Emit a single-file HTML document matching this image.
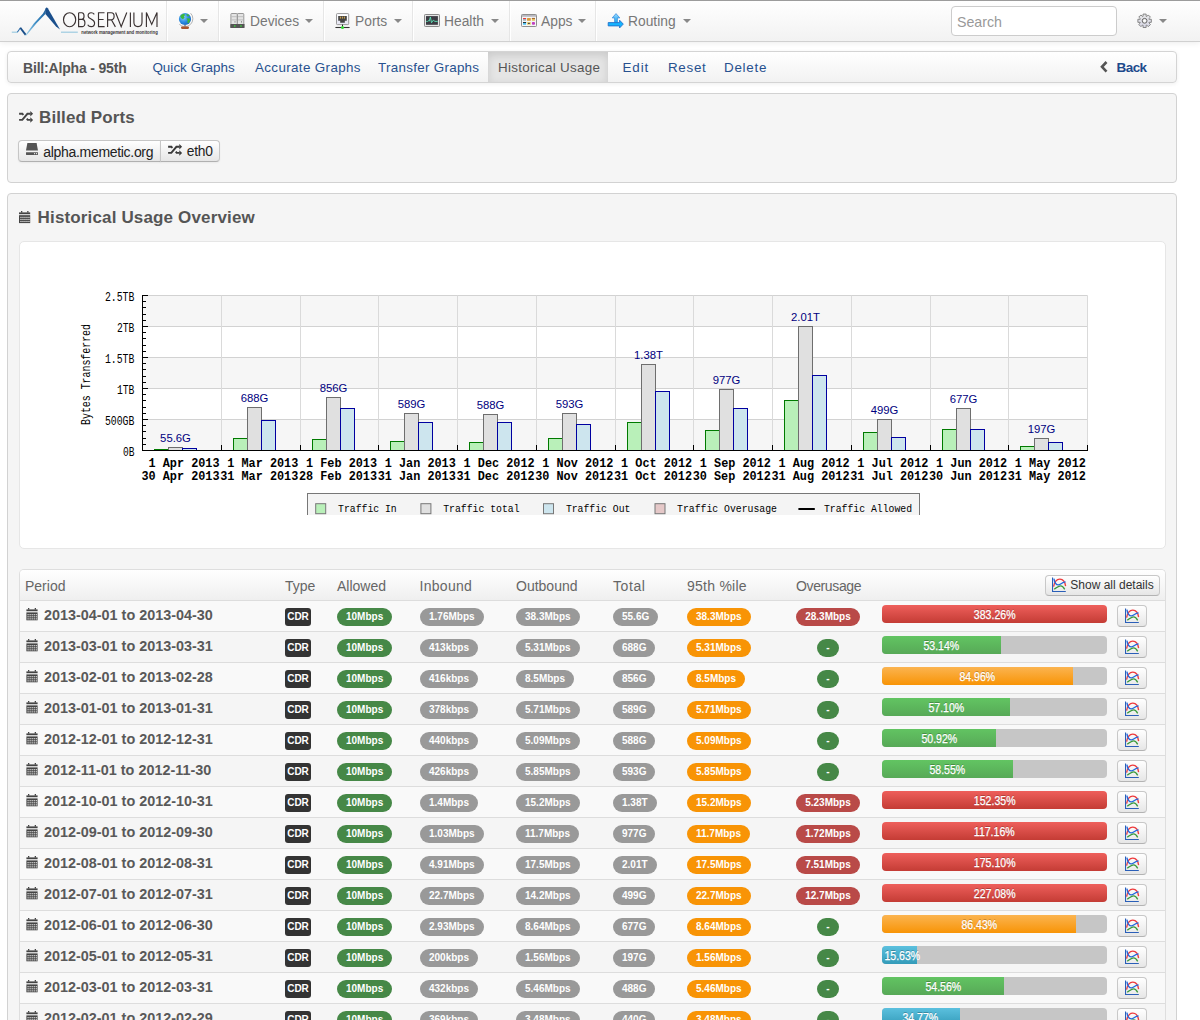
<!DOCTYPE html>
<html><head><meta charset="utf-8">
<style>
*{box-sizing:border-box}
html,body{margin:0;padding:0}
body{width:1200px;height:1020px;overflow:hidden;position:relative;background:#fff;font-family:"Liberation Sans",sans-serif;color:#333}
.abs{position:absolute}
/* navbar */
#nav{position:absolute;left:0;top:0;width:1200px;height:42px;background:linear-gradient(#fff,#f2f2f2);border-bottom:1px solid #d0d0d0;box-shadow:inset 0 1px 0 #9c9c9c,0 1px 6px rgba(0,0,0,.08)}
.sep{position:absolute;top:1px;width:2px;height:40px;border-left:1px solid #e6e6e6;border-right:1px solid #fff}
.nt{position:absolute;top:14px;font-size:13.8px;color:#777;line-height:16px;white-space:nowrap}
.caret{position:absolute;top:19px;width:0;height:0;border-left:4px solid transparent;border-right:4px solid transparent;border-top:4px solid #888}
#search{position:absolute;left:951px;top:6px;width:166px;height:30px;border:1px solid #ccc;border-radius:4px;background:#fff;font-size:14.2px;color:#999;padding:7px 0 0 5px;line-height:16px}
/* subnav */
#sub{position:absolute;left:7px;top:51px;width:1170px;height:32px;border:1px solid #d4d4d4;border-radius:4px;background:linear-gradient(#fff,#f2f2f2);box-shadow:0 1px 4px rgba(0,0,0,.065)}
.sl{position:absolute;top:8px;font-size:13.4px;color:#27518f;line-height:16px;white-space:nowrap}
#act{position:absolute;left:480px;top:0;width:120px;height:30px;background:#e5e5e5;box-shadow:inset 0 3px 8px rgba(0,0,0,.125)}
/* boxes */
.box{position:absolute;left:7px;width:1170px;background:#f5f5f5;border:1px solid #d2d2d2;border-radius:4px}
.h3{position:absolute;font-size:17px;font-weight:bold;color:#555;line-height:20px;white-space:nowrap}
.btng{position:absolute;left:10px;top:46px;height:22px;border:1px solid #c8c8c8;border-bottom-color:#b3b3b3;border-radius:4px;background:linear-gradient(#fff,#e6e6e6);display:flex;box-shadow:0 1px 2px rgba(0,0,0,.05)}
/* table */
#tbl{position:absolute;left:19px;top:569px;width:1147px;height:460px;border:1px solid #dedede;border-bottom:none;border-radius:5px 5px 0 0;background:#f9f9f9;overflow:hidden}
.tr{position:relative;height:31px;border-bottom:1px solid #ddd}
.tr.h{height:31px;background:linear-gradient(#fff,#efefef)}
.th{position:absolute;top:8px;font-size:14px;color:#666;line-height:16px;white-space:nowrap}
.odd{background:#f9f9f9}.even{background:#f5f5f5}
.per{position:absolute;left:24px;top:6px;font-size:14.4px;font-weight:bold;color:#595959;line-height:16px;white-space:nowrap}
.cal{position:absolute;left:5.5px;top:7px}
.b{position:absolute;top:7px;height:18px;padding:0 9px;border-radius:9px;color:#fff;font-size:10px;font-weight:bold;line-height:18px;text-align:center;white-space:nowrap}
.cdr{position:absolute;left:265px;top:7px;width:26px;height:18px;border-radius:3px;background:#333;color:#fff;font-size:10px;font-weight:bold;line-height:18px;text-align:center}
.g{background:#468847}.gr{background:#999}.o{background:#f89406}.r{background:#b94a48}
.pb{position:absolute;left:861.7px;top:4px;width:225px;height:18px;border-radius:4px;background:#c6c6c6;overflow:hidden}
.pf{height:18px;color:#fff;font-size:12px;line-height:20px;text-align:center;text-shadow:0 -1px 0 rgba(0,0,0,.25);white-space:nowrap;overflow:visible}
.pf span{display:inline-block;transform:scaleX(.88);-webkit-text-stroke:0.25px #fff}
.pr{background:linear-gradient(#ee5f5b,#c43c35)}
.pg{background:linear-gradient(#62c462,#57a957)}
.po{background:linear-gradient(#fbb450,#f89406)}
.pbl{background:linear-gradient(#5bc0de,#339bb9)}
.gbtn{position:absolute;left:1097px;top:3.5px;width:29.5px;height:22px;border:1px solid #c8c8c8;border-bottom-color:#b3b3b3;border-radius:4px;background:linear-gradient(#fff,#e6e6e6)}
.gbtn svg{position:absolute;left:6px;top:2.5px}

.bt{position:absolute;height:21px;border:1px solid #c6c6c6;border-bottom-color:#b0b0b0;background:linear-gradient(#fff,#e6e6e6);box-shadow:inset 0 1px 0 rgba(255,255,255,.2),0 1px 2px rgba(0,0,0,.05)}
.bl{position:absolute;color:#222;line-height:16px;white-space:nowrap}
.ov{position:absolute;left:758px;top:7px;width:100px;text-align:center;height:18px}
.b2{display:inline-block;height:18px;padding:0 9px;border-radius:9px;color:#fff;font-size:10px;font-weight:bold;line-height:18px;white-space:nowrap;vertical-align:top}
.sad{position:absolute;left:1025px;top:5px;width:115px;height:21px;border:1px solid #c8c8c8;border-bottom-color:#b3b3b3;border-radius:4px;background:linear-gradient(#fff,#e6e6e6);font-size:12px;color:#333;line-height:14px}
.sad span{position:absolute;left:24.3px;top:2px;white-space:nowrap}
</style></head><body>

<!-- NAVBAR -->
<div id="nav">
 <svg class="abs" style="left:0;top:0" width="165" height="41" viewBox="0 0 165 41">
  <defs><linearGradient id="lg1" x1="25" y1="35" x2="46" y2="8" gradientUnits="userSpaceOnUse"><stop offset="0" stop-color="#9fd2ea"/><stop offset="0.5" stop-color="#3d8cc4"/><stop offset="1" stop-color="#1a5a96"/></linearGradient></defs>
  <path d="M11.8 32.2 H17.5" stroke="#9ccbe0" stroke-width="1.2" fill="none"/>
  <path d="M17.3 32.3 L20.5 27.8" stroke="#2f70ad" stroke-width="1.1" fill="none"/><path d="M20.3 27.7 L25.7 34.9" stroke="#1a4f8a" stroke-width="1.9" fill="none"/>
  <path d="M25.3 35.3 L34 23.2 L43 13.6 L46.4 7.4 L45.4 13.9 L36.5 23.2 L26.3 35.6 Z" fill="url(#lg1)"/>
  <path d="M45.6 8.4 Q46.6 6.7 47.8 8.2 L60 29.4 L56 26.4 L45.4 13.9 Z" fill="#1a4f8c"/>
  <path d="M61 32.2 H77.8" stroke="#9ccbe0" stroke-width="1.2" fill="none"/>
  <g stroke="#3a3232" stroke-width="1.15" fill="none" stroke-linejoin="miter">
   <ellipse cx="69.6" cy="19.7" rx="6.1" ry="7"/>
   <path d="M78.6 12.7 V26.6 H82.4 C85.8 26.6 85.8 19.4 82.2 19.4 H78.6 M78.6 12.7 H81.8 C84.8 12.7 84.8 19.4 81.8 19.4"/>
   <path d="M94.3 14.3 C93.4 13 92.2 12.7 91.1 12.7 C88.7 12.7 88.1 14.4 88.1 15.9 C88.1 19.3 94.6 18.7 94.6 22.9 C94.6 25.1 93.2 26.6 91.1 26.6 C89.7 26.6 88.5 26 87.7 24.7"/>
   <path d="M104.5 12.7 H98.5 V26.6 H104.6 M98.5 19.5 H103.6"/>
   <path d="M107.6 26.9 V12.7 H111.2 C115.1 12.7 115.1 19.8 111.2 19.8 H107.6 M111.4 19.8 L115.4 26.9"/>
   <path d="M115.6 12.5 L121.2 26.6 L126.8 12.5"/>
   <path d="M130.4 12.5 V26.9"/>
   <path d="M133.9 12.5 V22.3 C133.9 25.2 135.6 26.6 138 26.6 C140.4 26.6 142 25.2 142 22.3 V12.5"/>
   <path d="M146.4 26.9 V12.5 L151.7 24.4 L157 12.5 V26.9"/>
  </g>
  <text x="81.3" y="33.9" textLength="76.5" lengthAdjust="spacingAndGlyphs" font-family="Liberation Sans" font-size="5" font-weight="bold" fill="#3a3434">network management and monitoring</text>
 </svg>
 <div class="sep" style="left:166px"></div>
 <!-- globe -->
 <svg class="abs" style="left:177px;top:11px" width="17" height="19" viewBox="0 0 17 19">
  <defs><radialGradient id="gl" cx="0.38" cy="0.35" r="0.75"><stop offset="0" stop-color="#8fd0ff"/><stop offset="0.55" stop-color="#2b8ae0"/><stop offset="1" stop-color="#1560b8"/></radialGradient></defs>
  <path d="M13.6 2.2 A7.6 7.6 0 0 1 2.3 13.3" stroke="#b4b4b4" stroke-width="1" fill="none"/>
  <circle cx="8" cy="8" r="6.1" fill="url(#gl)"/>
  <path d="M3.2 5.2 Q4.5 3 7 2.8 L8.2 4 L6.8 5.2 L7.6 6.6 L6 8.2 L4.6 7.4 Z M9.2 3.5 L11.3 3.2 L12.4 5 L10.5 5.6 Z M9.5 7.3 L12.8 7.6 L13.2 9.6 L11.6 12.2 L10.4 11.8 L10.6 9.6 Z" fill="#3db83a"/>
  <rect x="7.2" y="14" width="1.6" height="1.6" fill="#888"/>
  <rect x="4" y="15.5" width="8" height="2.4" rx="1.1" fill="#a9552c"/>
 </svg>
 <div class="caret" style="left:200px"></div>
 <div class="sep" style="left:218px"></div>
 <!-- devices -->
 <svg class="abs" style="left:230px;top:13px" width="15" height="15" viewBox="0 0 15 15">
  <rect x="0.9" y="0.5" width="6.4" height="11" rx="0.7" fill="#e4e4e4" stroke="#8f8f8f" stroke-width="0.9"/>
  <rect x="7.4" y="0.5" width="6.4" height="11" rx="0.7" fill="#e4e4e4" stroke="#8f8f8f" stroke-width="0.9"/>
  <path d="M1.5 3.7h5.4M1.5 6.9h5.4M8 3.7h5.4M8 6.9h5.4" stroke="#b4b4b4" stroke-width="0.8"/>
  <rect x="4.5" y="8.4" width="1" height="1" fill="#666"/><rect x="11" y="8.4" width="1" height="1" fill="#666"/>
  <rect x="0.2" y="11" width="14.4" height="3.9" rx="0.4" fill="#555"/>
  <circle cx="4.8" cy="12.9" r="0.75" fill="#3f3"/><circle cx="11" cy="12.9" r="0.75" fill="#3f3"/>
 </svg>
 <div class="nt" style="left:250px">Devices</div>
 <div class="caret" style="left:305px"></div>
 <div class="sep" style="left:323px"></div>
 <!-- ports -->
 <svg class="abs" style="left:335px;top:13px" width="16" height="17" viewBox="0 0 16 17">
  <rect x="1.5" y="0.6" width="12.2" height="11" rx="0.8" fill="#e8e8f4" stroke="#9a9a9a" stroke-width="1"/>
  <rect x="2.3" y="1.3" width="10.6" height="6" fill="#fff"/>
  <path d="M3.2 2.9h8.6v4.8h-2v2h-4.6v-2h-2z" fill="#444"/>
  <path d="M5.4 3.6v2M7.4 3.6v2M9.4 3.6v2" stroke="#e6b450" stroke-width="0.9"/>
  <path d="M7.5 11.6v2.7" stroke="#222" stroke-width="1"/>
  <path d="M0.4 14.5h14.2" stroke="#333" stroke-width="1.1"/>
  <circle cx="7.5" cy="14.6" r="1.5" fill="#33dd33"/>
 </svg>
 <div class="nt" style="left:355px">Ports</div>
 <div class="caret" style="left:394px"></div>
 <div class="sep" style="left:412px"></div>
 <!-- health -->
 <svg class="abs" style="left:424px;top:14px" width="16" height="13" viewBox="0 0 16 13">
  <rect x="0.5" y="0.5" width="15" height="12" rx="0.8" fill="#e6e6e6" stroke="#8a8a8a" stroke-width="1"/>
  <rect x="2" y="2.1" width="11.9" height="8.7" fill="#3c3c44"/>
  <path d="M2.2 7.4h1.4l0.8 -0.7l0.8 0.5l1.2 -4.2l1.1 5.7l1.8 -2.5l1.6 1.2h2.8" stroke="#5ee6b8" stroke-width="0.9" fill="none" stroke-linejoin="round"/>
 </svg>
 <div class="nt" style="left:444px">Health</div>
 <div class="caret" style="left:491px"></div>
 <div class="sep" style="left:509px"></div>
 <!-- apps -->
 <svg class="abs" style="left:521px;top:14px" width="16" height="13" viewBox="0 0 16 13">
  <rect x="0.5" y="0.5" width="15" height="12" rx="0.8" fill="#f6f6f6" stroke="#8e8e8e" stroke-width="1"/>
  <rect x="1" y="1" width="14" height="1.8" fill="#b8b8c0"/>
  <rect x="2" y="3.9" width="3.1" height="2.8" rx="0.5" fill="#9cb0c0"/><rect x="2" y="3.9" width="3.1" height="1" rx="0.4" fill="#e33"/>
  <rect x="6" y="3.9" width="3.8" height="2.8" rx="0.5" fill="#d89a3a"/>
  <rect x="10.9" y="3.9" width="3.1" height="2.8" rx="0.5" fill="#e8c060"/><rect x="10.9" y="3.9" width="3.1" height="1" fill="#a0602a"/>
  <rect x="2" y="8" width="3.1" height="2.8" rx="0.5" fill="#4ec0ee"/><rect x="2" y="8" width="3.1" height="0.9" fill="#222"/>
  <rect x="6" y="8" width="3.8" height="2.8" rx="0.5" fill="#e8d070"/><rect x="7" y="8.9" width="1.8" height="1" fill="#335"/>
  <rect x="10.9" y="8" width="3.1" height="2.8" rx="1" fill="#c040c0"/>
 </svg>
 <div class="nt" style="left:541px">Apps</div>
 <div class="caret" style="left:578px"></div>
 <div class="sep" style="left:595px"></div>
 <!-- routing -->
 <svg class="abs" style="left:607px;top:12px" width="18" height="17" viewBox="0 0 18 17">
  <defs><linearGradient id="rg" x1="0" y1="0" x2="0" y2="1"><stop offset="0" stop-color="#9ad8ff"/><stop offset="1" stop-color="#1aa8f0"/></linearGradient></defs>
  <path d="M7.6 10.5 V5.9 H5.2 L9 1.6 L12.8 5.9 H10.4 V10.5 Z" fill="url(#rg)" stroke="#3d8fe0" stroke-width="0.8" stroke-linejoin="round"/>
  <path d="M1.2 10.6 H12.6 V8.2 L16.3 12.1 L12.6 15.9 V13.9 H1.2 Z" fill="#14b4ff" stroke="#2470c8" stroke-width="0.9" stroke-linejoin="round"/>
 </svg>
 <div class="nt" style="left:628px">Routing</div>
 <div class="caret" style="left:683px"></div>
 <div id="search">Search</div>
 <!-- gear -->
 <svg class="abs" style="left:1137px;top:13px" width="16" height="16" viewBox="0 0 16 16">
  <defs><linearGradient id="gg" x1="0" y1="0" x2="0" y2="1"><stop offset="0" stop-color="#e8e8e8"/><stop offset="1" stop-color="#d6d6e6"/></linearGradient></defs>
  <path d="M6.07 3.36 L6.05 1.08 L9.15 1.08 L9.13 3.36 L9.66 3.58 L11.26 1.95 L13.45 4.14 L11.82 5.74 L12.04 6.27 L14.32 6.25 L14.32 9.35 L12.04 9.33 L11.82 9.86 L13.45 11.46 L11.26 13.65 L9.66 12.02 L9.13 12.24 L9.15 14.52 L6.05 14.52 L6.07 12.24 L5.54 12.02 L3.94 13.65 L1.75 11.46 L3.38 9.86 L3.16 9.33 L0.88 9.35 L0.88 6.25 L3.16 6.27 L3.38 5.74 L1.75 4.14 L3.94 1.95 L5.54 3.58 Z" fill="url(#gg)" stroke="#7a7a7a" stroke-width="0.9" stroke-linejoin="round"/>
  <circle cx="7.6" cy="7.8" r="2.4" fill="#ececec" stroke="#666" stroke-width="1"/>
  <rect x="6.7" y="6.9" width="1.8" height="1.8" fill="#fff"/>
 </svg>
 <div class="caret" style="left:1159px"></div>
</div>

<!-- SUBNAV -->
<div id="sub">
 <div id="act"></div>
 <div class="sl" style="left:15px;font-weight:bold;color:#555;font-size:14px;letter-spacing:-0.18px">Bill:Alpha - 95th</div>
 <div class="sl" style="left:144.4px;letter-spacing:0.05px">Quick Graphs</div>
 <div class="sl" style="left:247px;letter-spacing:0.36px">Accurate Graphs</div>
 <div class="sl" style="left:370px;letter-spacing:0.29px">Transfer Graphs</div>
 <div class="sl" style="left:490px;color:#555;letter-spacing:0.3px">Historical Usage</div>
 <div class="sl" style="left:614.5px;letter-spacing:0.9px">Edit</div>
 <div class="sl" style="left:660px;letter-spacing:0.69px">Reset</div>
 <div class="sl" style="left:716px;letter-spacing:0.75px">Delete</div>
 <svg class="abs" style="left:1092px;top:9px" width="9" height="12" viewBox="0 0 9 12"><path d="M6.5 1 L2 5.8 L6.5 10.6" stroke="#555" stroke-width="2.6" fill="none" stroke-linejoin="miter"/></svg>
 <div class="sl" style="left:1108.5px;font-weight:bold;color:#1d4a8c;font-size:13.5px;letter-spacing:-0.55px">Back</div>
</div>

<!-- BILLED PORTS -->
<div class="box" style="top:93px;height:90px">
 <svg class="abs" style="left:10px;top:16px" width="16" height="14" viewBox="0 0 16 14">
  <path d="M1.1 3.8H4.4L5.3 5M1.1 9.9H4.3L9.4 3.8H12.6M8.8 8.6L9.7 9.9H12.6" stroke="#444" stroke-width="1.9" fill="none" stroke-linejoin="miter"/>
  <path d="M12.3 1.1L15.1 3.8L12.3 6.5ZM12.3 7.2L15.1 9.9L12.3 12.7Z" fill="#444"/>
 </svg>
 <div class="h3" style="left:31px;top:13.9px;letter-spacing:0.12px">Billed Ports</div>
 <div class="bt" style="left:10px;top:46px;height:22px;width:143px;border-radius:4px 0 0 4px"></div>
 <div class="bt" style="left:152px;top:46px;height:22px;width:60px;border-radius:0 4px 4px 0"></div>
 <svg class="abs" style="left:18px;top:49px" width="13" height="13" viewBox="0 0 13 13">
  <path d="M1.4 0h9.2l1.4 7.5h-12z" fill="#555"/>
  <rect x="0" y="9.2" width="12" height="2.8" rx="0.4" fill="#555"/>
  <rect x="8" y="10.1" width="1.1" height="1.1" fill="#eee"/><rect x="10" y="10.1" width="1.1" height="1.1" fill="#eee"/>
 </svg>
 <div class="bl" style="left:35.3px;top:50.2px;font-size:14px;letter-spacing:-0.31px">alpha.memetic.org</div>
 <svg class="abs" style="left:158.6px;top:48.9px" width="16" height="14" viewBox="0 0 16 14">
  <path d="M1.1 3.8H4.4L5.3 5M1.1 9.9H4.3L9.4 3.8H12.6M8.8 8.6L9.7 9.9H12.6" stroke="#3a3a3a" stroke-width="1.9" fill="none" stroke-linejoin="miter"/>
  <path d="M12.3 1.1L15.1 3.8L12.3 6.5ZM12.3 7.2L15.1 9.9L12.3 12.7Z" fill="#3a3a3a"/>
 </svg>
 <div class="bl" style="left:178.7px;top:50.2px;font-size:13.8px;letter-spacing:-0.2px">eth0</div>
</div>
<!-- HISTORICAL -->
<div class="box" style="top:193px;height:840px">
 <svg class="abs" style="left:11px;top:16.5px" width="12" height="13" viewBox="0 0 12 13"><rect x="2" y="0" width="1.3" height="1.6" fill="#444"/><rect x="8.2" y="0" width="1.3" height="1.6" fill="#444"/><rect x="0" y="1.4" width="11.2" height="1.8" fill="#444"/><rect x="0" y="4.2" width="11.2" height="7.9" fill="#444"/><rect x="1.40" y="5.80" width="1.15" height="1.15" fill="#f2f2f2"/><rect x="1.40" y="7.85" width="1.15" height="1.15" fill="#f2f2f2"/><rect x="1.40" y="9.90" width="1.15" height="1.15" fill="#f2f2f2"/><rect x="3.40" y="5.80" width="1.15" height="1.15" fill="#f2f2f2"/><rect x="3.40" y="7.85" width="1.15" height="1.15" fill="#f2f2f2"/><rect x="3.40" y="9.90" width="1.15" height="1.15" fill="#f2f2f2"/><rect x="5.40" y="5.80" width="1.15" height="1.15" fill="#f2f2f2"/><rect x="5.40" y="7.85" width="1.15" height="1.15" fill="#f2f2f2"/><rect x="5.40" y="9.90" width="1.15" height="1.15" fill="#f2f2f2"/><rect x="7.40" y="5.80" width="1.15" height="1.15" fill="#f2f2f2"/><rect x="7.40" y="7.85" width="1.15" height="1.15" fill="#f2f2f2"/><rect x="7.40" y="9.90" width="1.15" height="1.15" fill="#f2f2f2"/><rect x="9.40" y="5.80" width="1.15" height="1.15" fill="#f2f2f2"/><rect x="9.40" y="7.85" width="1.15" height="1.15" fill="#f2f2f2"/><rect x="9.40" y="9.90" width="1.15" height="1.15" fill="#f2f2f2"/></svg>
 <div class="h3" style="left:29.6px;top:13.8px;letter-spacing:0.15px">Historical Usage Overview</div>
 <div class="abs" style="left:11px;top:47px;width:1147px;height:308px;background:#fff;border:1px solid #e6e6e6;border-radius:5px"></div>
</div>
<svg class="abs" style="left:60px;top:280px" width="1040" height="235" viewBox="60 280 1040 235" shape-rendering="auto">
<rect x="142.5" y="295.50" width="945.00" height="31.00" fill="#f6f6f6"/>
<rect x="142.5" y="357.50" width="945.00" height="31.00" fill="#f6f6f6"/>
<rect x="142.5" y="419.50" width="945.00" height="31.00" fill="#f6f6f6"/>
<path d="M142.5 295.50H1087.5" stroke="#d2d2d2" stroke-width="1"/>
<path d="M142.5 326.50H1087.5" stroke="#d2d2d2" stroke-width="1"/>
<path d="M142.5 357.50H1087.5" stroke="#d2d2d2" stroke-width="1"/>
<path d="M142.5 388.50H1087.5" stroke="#d2d2d2" stroke-width="1"/>
<path d="M142.5 419.50H1087.5" stroke="#d2d2d2" stroke-width="1"/>
<path d="M221.50 295.5V450.2" stroke="#dadada" stroke-width="1"/>
<path d="M300.50 295.5V450.2" stroke="#dadada" stroke-width="1"/>
<path d="M378.50 295.5V450.2" stroke="#dadada" stroke-width="1"/>
<path d="M457.50 295.5V450.2" stroke="#dadada" stroke-width="1"/>
<path d="M536.50 295.5V450.2" stroke="#dadada" stroke-width="1"/>
<path d="M615.50 295.5V450.2" stroke="#dadada" stroke-width="1"/>
<path d="M693.50 295.5V450.2" stroke="#dadada" stroke-width="1"/>
<path d="M772.50 295.5V450.2" stroke="#dadada" stroke-width="1"/>
<path d="M851.50 295.5V450.2" stroke="#dadada" stroke-width="1"/>
<path d="M930.50 295.5V450.2" stroke="#dadada" stroke-width="1"/>
<path d="M1008.50 295.5V450.2" stroke="#dadada" stroke-width="1"/>
<path d="M1087.50 295.5V450.2" stroke="#dadada" stroke-width="1"/>
<rect x="154.50" y="449.50" width="14" height="1.00" fill="#b9f0b9" stroke="#007a00" stroke-width="1"/>
<rect x="168.50" y="447.50" width="14" height="3.00" fill="#e0e0e0" stroke="#6e6e6e" stroke-width="1"/>
<rect x="182.50" y="448.50" width="14" height="2.00" fill="#cde5ee" stroke="#0000a0" stroke-width="1"/>
<rect x="233.50" y="438.50" width="14" height="12.00" fill="#b9f0b9" stroke="#007a00" stroke-width="1"/>
<rect x="247.50" y="407.50" width="14" height="43.00" fill="#e0e0e0" stroke="#6e6e6e" stroke-width="1"/>
<rect x="261.50" y="420.50" width="14" height="30.00" fill="#cde5ee" stroke="#0000a0" stroke-width="1"/>
<rect x="312.50" y="439.50" width="14" height="11.00" fill="#b9f0b9" stroke="#007a00" stroke-width="1"/>
<rect x="326.50" y="397.50" width="14" height="53.00" fill="#e0e0e0" stroke="#6e6e6e" stroke-width="1"/>
<rect x="340.50" y="408.50" width="14" height="42.00" fill="#cde5ee" stroke="#0000a0" stroke-width="1"/>
<rect x="390.50" y="441.50" width="14" height="9.00" fill="#b9f0b9" stroke="#007a00" stroke-width="1"/>
<rect x="404.50" y="413.50" width="14" height="37.00" fill="#e0e0e0" stroke="#6e6e6e" stroke-width="1"/>
<rect x="418.50" y="422.50" width="14" height="28.00" fill="#cde5ee" stroke="#0000a0" stroke-width="1"/>
<rect x="469.50" y="442.50" width="14" height="8.00" fill="#b9f0b9" stroke="#007a00" stroke-width="1"/>
<rect x="483.50" y="414.50" width="14" height="36.00" fill="#e0e0e0" stroke="#6e6e6e" stroke-width="1"/>
<rect x="497.50" y="422.50" width="14" height="28.00" fill="#cde5ee" stroke="#0000a0" stroke-width="1"/>
<rect x="548.50" y="438.50" width="14" height="12.00" fill="#b9f0b9" stroke="#007a00" stroke-width="1"/>
<rect x="562.50" y="413.50" width="14" height="37.00" fill="#e0e0e0" stroke="#6e6e6e" stroke-width="1"/>
<rect x="576.50" y="424.50" width="14" height="26.00" fill="#cde5ee" stroke="#0000a0" stroke-width="1"/>
<rect x="627.50" y="422.50" width="14" height="28.00" fill="#b9f0b9" stroke="#007a00" stroke-width="1"/>
<rect x="641.50" y="364.50" width="14" height="86.00" fill="#e0e0e0" stroke="#6e6e6e" stroke-width="1"/>
<rect x="655.50" y="391.50" width="14" height="59.00" fill="#cde5ee" stroke="#0000a0" stroke-width="1"/>
<rect x="705.50" y="430.50" width="14" height="20.00" fill="#b9f0b9" stroke="#007a00" stroke-width="1"/>
<rect x="719.50" y="389.50" width="14" height="61.00" fill="#e0e0e0" stroke="#6e6e6e" stroke-width="1"/>
<rect x="733.50" y="408.50" width="14" height="42.00" fill="#cde5ee" stroke="#0000a0" stroke-width="1"/>
<rect x="784.50" y="400.50" width="14" height="50.00" fill="#b9f0b9" stroke="#007a00" stroke-width="1"/>
<rect x="798.50" y="326.50" width="14" height="124.00" fill="#e0e0e0" stroke="#6e6e6e" stroke-width="1"/>
<rect x="812.50" y="375.50" width="14" height="75.00" fill="#cde5ee" stroke="#0000a0" stroke-width="1"/>
<rect x="863.50" y="432.50" width="14" height="18.00" fill="#b9f0b9" stroke="#007a00" stroke-width="1"/>
<rect x="877.50" y="419.50" width="14" height="31.00" fill="#e0e0e0" stroke="#6e6e6e" stroke-width="1"/>
<rect x="891.50" y="437.50" width="14" height="13.00" fill="#cde5ee" stroke="#0000a0" stroke-width="1"/>
<rect x="942.50" y="429.50" width="14" height="21.00" fill="#b9f0b9" stroke="#007a00" stroke-width="1"/>
<rect x="956.50" y="408.50" width="14" height="42.00" fill="#e0e0e0" stroke="#6e6e6e" stroke-width="1"/>
<rect x="970.50" y="429.50" width="14" height="21.00" fill="#cde5ee" stroke="#0000a0" stroke-width="1"/>
<rect x="1020.50" y="446.50" width="14" height="4.00" fill="#b9f0b9" stroke="#007a00" stroke-width="1"/>
<rect x="1034.50" y="438.50" width="14" height="12.00" fill="#e0e0e0" stroke="#6e6e6e" stroke-width="1"/>
<rect x="1048.50" y="442.50" width="14" height="8.00" fill="#cde5ee" stroke="#0000a0" stroke-width="1"/>
<path d="M142.5 295.0V451" stroke="#000" stroke-width="1"/>
<path d="M142.0 450.5H1088" stroke="#000" stroke-width="1.1"/>
<path d="M142.5 295.50H148" stroke="#000" stroke-width="1"/>
<path d="M142.5 326.50H148" stroke="#000" stroke-width="1"/>
<path d="M142.5 357.50H148" stroke="#000" stroke-width="1"/>
<path d="M142.5 388.50H148" stroke="#000" stroke-width="1"/>
<path d="M142.5 419.50H148" stroke="#000" stroke-width="1"/>
<path d="M142.5 450.50H148" stroke="#000" stroke-width="1"/>
<path d="M142.5 301.50H146" stroke="#000" stroke-width="1"/>
<path d="M142.5 307.50H146" stroke="#000" stroke-width="1"/>
<path d="M142.5 314.50H146" stroke="#000" stroke-width="1"/>
<path d="M142.5 320.50H146" stroke="#000" stroke-width="1"/>
<path d="M142.5 332.50H146" stroke="#000" stroke-width="1"/>
<path d="M142.5 338.50H146" stroke="#000" stroke-width="1"/>
<path d="M142.5 345.50H146" stroke="#000" stroke-width="1"/>
<path d="M142.5 351.50H146" stroke="#000" stroke-width="1"/>
<path d="M142.5 363.50H146" stroke="#000" stroke-width="1"/>
<path d="M142.5 369.50H146" stroke="#000" stroke-width="1"/>
<path d="M142.5 376.50H146" stroke="#000" stroke-width="1"/>
<path d="M142.5 382.50H146" stroke="#000" stroke-width="1"/>
<path d="M142.5 394.50H146" stroke="#000" stroke-width="1"/>
<path d="M142.5 400.50H146" stroke="#000" stroke-width="1"/>
<path d="M142.5 407.50H146" stroke="#000" stroke-width="1"/>
<path d="M142.5 413.50H146" stroke="#000" stroke-width="1"/>
<path d="M142.5 425.50H146" stroke="#000" stroke-width="1"/>
<path d="M142.5 431.50H146" stroke="#000" stroke-width="1"/>
<path d="M142.5 438.50H146" stroke="#000" stroke-width="1"/>
<path d="M142.5 444.50H146" stroke="#000" stroke-width="1"/>
<path d="M142.50 450.5V445" stroke="#000" stroke-width="1"/>
<path d="M221.50 450.5V445" stroke="#000" stroke-width="1"/>
<path d="M300.50 450.5V445" stroke="#000" stroke-width="1"/>
<path d="M378.50 450.5V445" stroke="#000" stroke-width="1"/>
<path d="M457.50 450.5V445" stroke="#000" stroke-width="1"/>
<path d="M536.50 450.5V445" stroke="#000" stroke-width="1"/>
<path d="M615.50 450.5V445" stroke="#000" stroke-width="1"/>
<path d="M693.50 450.5V445" stroke="#000" stroke-width="1"/>
<path d="M772.50 450.5V445" stroke="#000" stroke-width="1"/>
<path d="M851.50 450.5V445" stroke="#000" stroke-width="1"/>
<path d="M930.50 450.5V445" stroke="#000" stroke-width="1"/>
<path d="M1008.50 450.5V445" stroke="#000" stroke-width="1"/>
<path d="M1087.50 450.5V445" stroke="#000" stroke-width="1"/>
<text x="134.4" y="300.50" text-anchor="end" font-family="Liberation Mono" font-size="11.9" textLength="29.5" lengthAdjust="spacingAndGlyphs">2.5TB</text>
<text x="134.4" y="331.50" text-anchor="end" font-family="Liberation Mono" font-size="11.9" textLength="17.5" lengthAdjust="spacingAndGlyphs">2TB</text>
<text x="134.4" y="362.50" text-anchor="end" font-family="Liberation Mono" font-size="11.9" textLength="29.5" lengthAdjust="spacingAndGlyphs">1.5TB</text>
<text x="134.4" y="393.50" text-anchor="end" font-family="Liberation Mono" font-size="11.9" textLength="17.5" lengthAdjust="spacingAndGlyphs">1TB</text>
<text x="134.4" y="424.50" text-anchor="end" font-family="Liberation Mono" font-size="11.9" textLength="29.5" lengthAdjust="spacingAndGlyphs">500GB</text>
<text x="134.4" y="455.50" text-anchor="end" font-family="Liberation Mono" font-size="11.9" textLength="11.5" lengthAdjust="spacingAndGlyphs">0B</text>
<text transform="translate(90.3,374.5) rotate(-90)" text-anchor="middle" font-family="Liberation Mono" font-size="12" textLength="101" lengthAdjust="spacingAndGlyphs">Bytes Transferred</text>
<text x="175.50" y="442.00" text-anchor="middle" font-family="Liberation Sans" font-size="11.3" fill="#000080">55.6G</text>
<text x="254.50" y="402.00" text-anchor="middle" font-family="Liberation Sans" font-size="11.3" fill="#000080">688G</text>
<text x="333.50" y="391.90" text-anchor="middle" font-family="Liberation Sans" font-size="11.3" fill="#000080">856G</text>
<text x="411.50" y="407.90" text-anchor="middle" font-family="Liberation Sans" font-size="11.3" fill="#000080">589G</text>
<text x="490.50" y="408.80" text-anchor="middle" font-family="Liberation Sans" font-size="11.3" fill="#000080">588G</text>
<text x="569.50" y="407.80" text-anchor="middle" font-family="Liberation Sans" font-size="11.3" fill="#000080">593G</text>
<text x="648.50" y="358.70" text-anchor="middle" font-family="Liberation Sans" font-size="11.3" fill="#000080">1.38T</text>
<text x="726.50" y="383.80" text-anchor="middle" font-family="Liberation Sans" font-size="11.3" fill="#000080">977G</text>
<text x="805.50" y="320.80" text-anchor="middle" font-family="Liberation Sans" font-size="11.3" fill="#000080">2.01T</text>
<text x="884.50" y="413.90" text-anchor="middle" font-family="Liberation Sans" font-size="11.3" fill="#000080">499G</text>
<text x="963.50" y="403.00" text-anchor="middle" font-family="Liberation Sans" font-size="11.3" fill="#000080">677G</text>
<text x="1041.50" y="432.80" text-anchor="middle" font-family="Liberation Sans" font-size="11.3" fill="#000080">197G</text>
<text x="219.57" y="467.1" text-anchor="end" font-family="Liberation Mono" font-weight="bold" font-size="12.2" textLength="71.0" lengthAdjust="spacingAndGlyphs">1 Apr 2013</text>
<text x="219.57" y="480.1" text-anchor="end" font-family="Liberation Mono" font-weight="bold" font-size="12.2" textLength="78.1" lengthAdjust="spacingAndGlyphs">30 Apr 2013</text>
<text x="298.32" y="467.1" text-anchor="end" font-family="Liberation Mono" font-weight="bold" font-size="12.2" textLength="71.0" lengthAdjust="spacingAndGlyphs">1 Mar 2013</text>
<text x="298.32" y="480.1" text-anchor="end" font-family="Liberation Mono" font-weight="bold" font-size="12.2" textLength="78.1" lengthAdjust="spacingAndGlyphs">31 Mar 2013</text>
<text x="377.07" y="467.1" text-anchor="end" font-family="Liberation Mono" font-weight="bold" font-size="12.2" textLength="71.0" lengthAdjust="spacingAndGlyphs">1 Feb 2013</text>
<text x="377.07" y="480.1" text-anchor="end" font-family="Liberation Mono" font-weight="bold" font-size="12.2" textLength="78.1" lengthAdjust="spacingAndGlyphs">28 Feb 2013</text>
<text x="455.82" y="467.1" text-anchor="end" font-family="Liberation Mono" font-weight="bold" font-size="12.2" textLength="71.0" lengthAdjust="spacingAndGlyphs">1 Jan 2013</text>
<text x="455.82" y="480.1" text-anchor="end" font-family="Liberation Mono" font-weight="bold" font-size="12.2" textLength="78.1" lengthAdjust="spacingAndGlyphs">31 Jan 2013</text>
<text x="534.58" y="467.1" text-anchor="end" font-family="Liberation Mono" font-weight="bold" font-size="12.2" textLength="71.0" lengthAdjust="spacingAndGlyphs">1 Dec 2012</text>
<text x="534.58" y="480.1" text-anchor="end" font-family="Liberation Mono" font-weight="bold" font-size="12.2" textLength="78.1" lengthAdjust="spacingAndGlyphs">31 Dec 2012</text>
<text x="613.33" y="467.1" text-anchor="end" font-family="Liberation Mono" font-weight="bold" font-size="12.2" textLength="71.0" lengthAdjust="spacingAndGlyphs">1 Nov 2012</text>
<text x="613.33" y="480.1" text-anchor="end" font-family="Liberation Mono" font-weight="bold" font-size="12.2" textLength="78.1" lengthAdjust="spacingAndGlyphs">30 Nov 2012</text>
<text x="692.08" y="467.1" text-anchor="end" font-family="Liberation Mono" font-weight="bold" font-size="12.2" textLength="71.0" lengthAdjust="spacingAndGlyphs">1 Oct 2012</text>
<text x="692.08" y="480.1" text-anchor="end" font-family="Liberation Mono" font-weight="bold" font-size="12.2" textLength="78.1" lengthAdjust="spacingAndGlyphs">31 Oct 2012</text>
<text x="770.83" y="467.1" text-anchor="end" font-family="Liberation Mono" font-weight="bold" font-size="12.2" textLength="71.0" lengthAdjust="spacingAndGlyphs">1 Sep 2012</text>
<text x="770.83" y="480.1" text-anchor="end" font-family="Liberation Mono" font-weight="bold" font-size="12.2" textLength="78.1" lengthAdjust="spacingAndGlyphs">30 Sep 2012</text>
<text x="849.58" y="467.1" text-anchor="end" font-family="Liberation Mono" font-weight="bold" font-size="12.2" textLength="71.0" lengthAdjust="spacingAndGlyphs">1 Aug 2012</text>
<text x="849.58" y="480.1" text-anchor="end" font-family="Liberation Mono" font-weight="bold" font-size="12.2" textLength="78.1" lengthAdjust="spacingAndGlyphs">31 Aug 2012</text>
<text x="928.33" y="467.1" text-anchor="end" font-family="Liberation Mono" font-weight="bold" font-size="12.2" textLength="71.0" lengthAdjust="spacingAndGlyphs">1 Jul 2012</text>
<text x="928.33" y="480.1" text-anchor="end" font-family="Liberation Mono" font-weight="bold" font-size="12.2" textLength="78.1" lengthAdjust="spacingAndGlyphs">31 Jul 2012</text>
<text x="1007.08" y="467.1" text-anchor="end" font-family="Liberation Mono" font-weight="bold" font-size="12.2" textLength="71.0" lengthAdjust="spacingAndGlyphs">1 Jun 2012</text>
<text x="1007.08" y="480.1" text-anchor="end" font-family="Liberation Mono" font-weight="bold" font-size="12.2" textLength="78.1" lengthAdjust="spacingAndGlyphs">30 Jun 2012</text>
<text x="1085.83" y="467.1" text-anchor="end" font-family="Liberation Mono" font-weight="bold" font-size="12.2" textLength="71.0" lengthAdjust="spacingAndGlyphs">1 May 2012</text>
<text x="1085.83" y="480.1" text-anchor="end" font-family="Liberation Mono" font-weight="bold" font-size="12.2" textLength="78.1" lengthAdjust="spacingAndGlyphs">31 May 2012</text>
<rect x="307.5" y="493.5" width="612" height="30" fill="#f4f4f4" stroke="#777" stroke-width="1"/>
<rect x="315.7" y="503.7" width="10" height="10" fill="#b9f0b9" stroke="#777" stroke-width="1"/>
<text x="338.1" y="512" font-family="Liberation Mono" font-size="11.6" textLength="58.6" lengthAdjust="spacingAndGlyphs">Traffic In</text>
<rect x="420.9" y="503.7" width="10" height="10" fill="#e0e0e0" stroke="#777" stroke-width="1"/>
<text x="443.2" y="512" font-family="Liberation Mono" font-size="11.6" textLength="76.4" lengthAdjust="spacingAndGlyphs">Traffic total</text>
<rect x="543.5" y="503.7" width="10" height="10" fill="#cde5ee" stroke="#777" stroke-width="1"/>
<text x="565.9" y="512" font-family="Liberation Mono" font-size="11.6" textLength="64.5" lengthAdjust="spacingAndGlyphs">Traffic Out</text>
<rect x="655" y="503.7" width="10" height="10" fill="#e5c8c8" stroke="#777" stroke-width="1"/>
<text x="677" y="512" font-family="Liberation Mono" font-size="11.6" textLength="100.0" lengthAdjust="spacingAndGlyphs">Traffic Overusage</text>
<path d="M798.4 509H814.8" stroke="#000" stroke-width="2"/>
<text x="823.9" y="512" font-family="Liberation Mono" font-size="11.6" textLength="88.2" lengthAdjust="spacingAndGlyphs">Traffic Allowed</text>
</svg>
<div id="tbl">
<div class="tr h"><div class="th" style="left:5px">Period</div><div class="th" style="left:265px">Type</div><div class="th" style="left:317px">Allowed</div><div class="th" style="left:399.5px;letter-spacing:0.3px">Inbound</div><div class="th" style="left:496px">Outbound</div><div class="th" style="left:593px;letter-spacing:0.6px">Total</div><div class="th" style="left:667px;letter-spacing:0.25px">95th %ile</div><div class="th" style="left:776px;letter-spacing:-0.37px">Overusage</div>
<div class="sad"><svg width="16" style="position:absolute;left:5px;top:1px" height="16" viewBox="0 0 16 16"><path d="M2.6 9.7 C3.5 5 6 2 8.9 2.1 C11.5 2.2 14 4.5 14.6 9.1" stroke="#ee3a3c" stroke-width="1.35" fill="none"/><path d="M2.9 1.6 C3.5 5 5 7.9 7.4 7.9 C9.5 7.9 11 5 14.6 4.9" stroke="#2468de" stroke-width="1.35" fill="none"/><path d="M3.2 12.1 C5 11.5 7 8.8 9.8 8.8 C12 8.8 13.2 11.5 13.7 12.4" stroke="#3c9a3c" stroke-width="1.35" fill="none"/><path d="M1.55 0.5V14.5H14.8" stroke="#2a5fb8" stroke-width="1.1" fill="none"/></svg><span>Show all details</span></div></div>
<div class="tr odd"><svg class="cal" width="13" height="13" viewBox="0 0 13 13"><rect x="2" y="0" width="1.3" height="1.6" fill="#444"/><rect x="8.7" y="0" width="1.3" height="1.6" fill="#444"/><rect x="0.4" y="1.4" width="11.2" height="1.8" fill="#444"/><rect x="0.4" y="4.4" width="11.2" height="7.9" fill="#444"/><rect x="1.50" y="6.10" width="1.15" height="1.15" fill="#f2f2f2"/><rect x="1.50" y="8.20" width="1.15" height="1.15" fill="#f2f2f2"/><rect x="1.50" y="10.30" width="1.15" height="1.15" fill="#f2f2f2"/><rect x="3.55" y="6.10" width="1.15" height="1.15" fill="#f2f2f2"/><rect x="3.55" y="8.20" width="1.15" height="1.15" fill="#f2f2f2"/><rect x="3.55" y="10.30" width="1.15" height="1.15" fill="#f2f2f2"/><rect x="5.60" y="6.10" width="1.15" height="1.15" fill="#f2f2f2"/><rect x="5.60" y="8.20" width="1.15" height="1.15" fill="#f2f2f2"/><rect x="5.60" y="10.30" width="1.15" height="1.15" fill="#f2f2f2"/><rect x="7.65" y="6.10" width="1.15" height="1.15" fill="#f2f2f2"/><rect x="7.65" y="8.20" width="1.15" height="1.15" fill="#f2f2f2"/><rect x="7.65" y="10.30" width="1.15" height="1.15" fill="#f2f2f2"/><rect x="9.70" y="6.10" width="1.15" height="1.15" fill="#f2f2f2"/><rect x="9.70" y="8.20" width="1.15" height="1.15" fill="#f2f2f2"/><rect x="9.70" y="10.30" width="1.15" height="1.15" fill="#f2f2f2"/></svg><div class="per">2013-04-01 to 2013-04-30</div><div class="cdr">CDR</div><div class="b g" style="left:317px">10Mbps</div><div class="b gr" style="left:400px">1.76Mbps</div><div class="b gr" style="left:496px">38.3Mbps</div><div class="b gr" style="left:593px">55.6G</div><div class="b o" style="left:667px">38.3Mbps</div><div class="ov"><span class="b2 r">28.3Mbps</span></div><div class="pb"><div class="pf pr" style="width:100.00%"><span>383.26%</span></div></div><div class="gbtn"><svg width="16" height="16" viewBox="0 0 16 16"><path d="M2.6 9.7 C3.5 5 6 2 8.9 2.1 C11.5 2.2 14 4.5 14.6 9.1" stroke="#ee3a3c" stroke-width="1.35" fill="none"/><path d="M2.9 1.6 C3.5 5 5 7.9 7.4 7.9 C9.5 7.9 11 5 14.6 4.9" stroke="#2468de" stroke-width="1.35" fill="none"/><path d="M3.2 12.1 C5 11.5 7 8.8 9.8 8.8 C12 8.8 13.2 11.5 13.7 12.4" stroke="#3c9a3c" stroke-width="1.35" fill="none"/><path d="M1.55 0.5V14.5H14.8" stroke="#2a5fb8" stroke-width="1.1" fill="none"/></svg></div></div>
<div class="tr even"><svg class="cal" width="13" height="13" viewBox="0 0 13 13"><rect x="2" y="0" width="1.3" height="1.6" fill="#444"/><rect x="8.7" y="0" width="1.3" height="1.6" fill="#444"/><rect x="0.4" y="1.4" width="11.2" height="1.8" fill="#444"/><rect x="0.4" y="4.4" width="11.2" height="7.9" fill="#444"/><rect x="1.50" y="6.10" width="1.15" height="1.15" fill="#f2f2f2"/><rect x="1.50" y="8.20" width="1.15" height="1.15" fill="#f2f2f2"/><rect x="1.50" y="10.30" width="1.15" height="1.15" fill="#f2f2f2"/><rect x="3.55" y="6.10" width="1.15" height="1.15" fill="#f2f2f2"/><rect x="3.55" y="8.20" width="1.15" height="1.15" fill="#f2f2f2"/><rect x="3.55" y="10.30" width="1.15" height="1.15" fill="#f2f2f2"/><rect x="5.60" y="6.10" width="1.15" height="1.15" fill="#f2f2f2"/><rect x="5.60" y="8.20" width="1.15" height="1.15" fill="#f2f2f2"/><rect x="5.60" y="10.30" width="1.15" height="1.15" fill="#f2f2f2"/><rect x="7.65" y="6.10" width="1.15" height="1.15" fill="#f2f2f2"/><rect x="7.65" y="8.20" width="1.15" height="1.15" fill="#f2f2f2"/><rect x="7.65" y="10.30" width="1.15" height="1.15" fill="#f2f2f2"/><rect x="9.70" y="6.10" width="1.15" height="1.15" fill="#f2f2f2"/><rect x="9.70" y="8.20" width="1.15" height="1.15" fill="#f2f2f2"/><rect x="9.70" y="10.30" width="1.15" height="1.15" fill="#f2f2f2"/></svg><div class="per">2013-03-01 to 2013-03-31</div><div class="cdr">CDR</div><div class="b g" style="left:317px">10Mbps</div><div class="b gr" style="left:400px">413kbps</div><div class="b gr" style="left:496px">5.31Mbps</div><div class="b gr" style="left:593px">688G</div><div class="b o" style="left:667px">5.31Mbps</div><div class="ov"><span class="b2 g">-</span></div><div class="pb"><div class="pf pg" style="width:53.14%"><span>53.14%</span></div></div><div class="gbtn"><svg width="16" height="16" viewBox="0 0 16 16"><path d="M2.6 9.7 C3.5 5 6 2 8.9 2.1 C11.5 2.2 14 4.5 14.6 9.1" stroke="#ee3a3c" stroke-width="1.35" fill="none"/><path d="M2.9 1.6 C3.5 5 5 7.9 7.4 7.9 C9.5 7.9 11 5 14.6 4.9" stroke="#2468de" stroke-width="1.35" fill="none"/><path d="M3.2 12.1 C5 11.5 7 8.8 9.8 8.8 C12 8.8 13.2 11.5 13.7 12.4" stroke="#3c9a3c" stroke-width="1.35" fill="none"/><path d="M1.55 0.5V14.5H14.8" stroke="#2a5fb8" stroke-width="1.1" fill="none"/></svg></div></div>
<div class="tr odd"><svg class="cal" width="13" height="13" viewBox="0 0 13 13"><rect x="2" y="0" width="1.3" height="1.6" fill="#444"/><rect x="8.7" y="0" width="1.3" height="1.6" fill="#444"/><rect x="0.4" y="1.4" width="11.2" height="1.8" fill="#444"/><rect x="0.4" y="4.4" width="11.2" height="7.9" fill="#444"/><rect x="1.50" y="6.10" width="1.15" height="1.15" fill="#f2f2f2"/><rect x="1.50" y="8.20" width="1.15" height="1.15" fill="#f2f2f2"/><rect x="1.50" y="10.30" width="1.15" height="1.15" fill="#f2f2f2"/><rect x="3.55" y="6.10" width="1.15" height="1.15" fill="#f2f2f2"/><rect x="3.55" y="8.20" width="1.15" height="1.15" fill="#f2f2f2"/><rect x="3.55" y="10.30" width="1.15" height="1.15" fill="#f2f2f2"/><rect x="5.60" y="6.10" width="1.15" height="1.15" fill="#f2f2f2"/><rect x="5.60" y="8.20" width="1.15" height="1.15" fill="#f2f2f2"/><rect x="5.60" y="10.30" width="1.15" height="1.15" fill="#f2f2f2"/><rect x="7.65" y="6.10" width="1.15" height="1.15" fill="#f2f2f2"/><rect x="7.65" y="8.20" width="1.15" height="1.15" fill="#f2f2f2"/><rect x="7.65" y="10.30" width="1.15" height="1.15" fill="#f2f2f2"/><rect x="9.70" y="6.10" width="1.15" height="1.15" fill="#f2f2f2"/><rect x="9.70" y="8.20" width="1.15" height="1.15" fill="#f2f2f2"/><rect x="9.70" y="10.30" width="1.15" height="1.15" fill="#f2f2f2"/></svg><div class="per">2013-02-01 to 2013-02-28</div><div class="cdr">CDR</div><div class="b g" style="left:317px">10Mbps</div><div class="b gr" style="left:400px">416kbps</div><div class="b gr" style="left:496px">8.5Mbps</div><div class="b gr" style="left:593px">856G</div><div class="b o" style="left:667px">8.5Mbps</div><div class="ov"><span class="b2 g">-</span></div><div class="pb"><div class="pf po" style="width:84.96%"><span>84.96%</span></div></div><div class="gbtn"><svg width="16" height="16" viewBox="0 0 16 16"><path d="M2.6 9.7 C3.5 5 6 2 8.9 2.1 C11.5 2.2 14 4.5 14.6 9.1" stroke="#ee3a3c" stroke-width="1.35" fill="none"/><path d="M2.9 1.6 C3.5 5 5 7.9 7.4 7.9 C9.5 7.9 11 5 14.6 4.9" stroke="#2468de" stroke-width="1.35" fill="none"/><path d="M3.2 12.1 C5 11.5 7 8.8 9.8 8.8 C12 8.8 13.2 11.5 13.7 12.4" stroke="#3c9a3c" stroke-width="1.35" fill="none"/><path d="M1.55 0.5V14.5H14.8" stroke="#2a5fb8" stroke-width="1.1" fill="none"/></svg></div></div>
<div class="tr even"><svg class="cal" width="13" height="13" viewBox="0 0 13 13"><rect x="2" y="0" width="1.3" height="1.6" fill="#444"/><rect x="8.7" y="0" width="1.3" height="1.6" fill="#444"/><rect x="0.4" y="1.4" width="11.2" height="1.8" fill="#444"/><rect x="0.4" y="4.4" width="11.2" height="7.9" fill="#444"/><rect x="1.50" y="6.10" width="1.15" height="1.15" fill="#f2f2f2"/><rect x="1.50" y="8.20" width="1.15" height="1.15" fill="#f2f2f2"/><rect x="1.50" y="10.30" width="1.15" height="1.15" fill="#f2f2f2"/><rect x="3.55" y="6.10" width="1.15" height="1.15" fill="#f2f2f2"/><rect x="3.55" y="8.20" width="1.15" height="1.15" fill="#f2f2f2"/><rect x="3.55" y="10.30" width="1.15" height="1.15" fill="#f2f2f2"/><rect x="5.60" y="6.10" width="1.15" height="1.15" fill="#f2f2f2"/><rect x="5.60" y="8.20" width="1.15" height="1.15" fill="#f2f2f2"/><rect x="5.60" y="10.30" width="1.15" height="1.15" fill="#f2f2f2"/><rect x="7.65" y="6.10" width="1.15" height="1.15" fill="#f2f2f2"/><rect x="7.65" y="8.20" width="1.15" height="1.15" fill="#f2f2f2"/><rect x="7.65" y="10.30" width="1.15" height="1.15" fill="#f2f2f2"/><rect x="9.70" y="6.10" width="1.15" height="1.15" fill="#f2f2f2"/><rect x="9.70" y="8.20" width="1.15" height="1.15" fill="#f2f2f2"/><rect x="9.70" y="10.30" width="1.15" height="1.15" fill="#f2f2f2"/></svg><div class="per">2013-01-01 to 2013-01-31</div><div class="cdr">CDR</div><div class="b g" style="left:317px">10Mbps</div><div class="b gr" style="left:400px">378kbps</div><div class="b gr" style="left:496px">5.71Mbps</div><div class="b gr" style="left:593px">589G</div><div class="b o" style="left:667px">5.71Mbps</div><div class="ov"><span class="b2 g">-</span></div><div class="pb"><div class="pf pg" style="width:57.10%"><span>57.10%</span></div></div><div class="gbtn"><svg width="16" height="16" viewBox="0 0 16 16"><path d="M2.6 9.7 C3.5 5 6 2 8.9 2.1 C11.5 2.2 14 4.5 14.6 9.1" stroke="#ee3a3c" stroke-width="1.35" fill="none"/><path d="M2.9 1.6 C3.5 5 5 7.9 7.4 7.9 C9.5 7.9 11 5 14.6 4.9" stroke="#2468de" stroke-width="1.35" fill="none"/><path d="M3.2 12.1 C5 11.5 7 8.8 9.8 8.8 C12 8.8 13.2 11.5 13.7 12.4" stroke="#3c9a3c" stroke-width="1.35" fill="none"/><path d="M1.55 0.5V14.5H14.8" stroke="#2a5fb8" stroke-width="1.1" fill="none"/></svg></div></div>
<div class="tr odd"><svg class="cal" width="13" height="13" viewBox="0 0 13 13"><rect x="2" y="0" width="1.3" height="1.6" fill="#444"/><rect x="8.7" y="0" width="1.3" height="1.6" fill="#444"/><rect x="0.4" y="1.4" width="11.2" height="1.8" fill="#444"/><rect x="0.4" y="4.4" width="11.2" height="7.9" fill="#444"/><rect x="1.50" y="6.10" width="1.15" height="1.15" fill="#f2f2f2"/><rect x="1.50" y="8.20" width="1.15" height="1.15" fill="#f2f2f2"/><rect x="1.50" y="10.30" width="1.15" height="1.15" fill="#f2f2f2"/><rect x="3.55" y="6.10" width="1.15" height="1.15" fill="#f2f2f2"/><rect x="3.55" y="8.20" width="1.15" height="1.15" fill="#f2f2f2"/><rect x="3.55" y="10.30" width="1.15" height="1.15" fill="#f2f2f2"/><rect x="5.60" y="6.10" width="1.15" height="1.15" fill="#f2f2f2"/><rect x="5.60" y="8.20" width="1.15" height="1.15" fill="#f2f2f2"/><rect x="5.60" y="10.30" width="1.15" height="1.15" fill="#f2f2f2"/><rect x="7.65" y="6.10" width="1.15" height="1.15" fill="#f2f2f2"/><rect x="7.65" y="8.20" width="1.15" height="1.15" fill="#f2f2f2"/><rect x="7.65" y="10.30" width="1.15" height="1.15" fill="#f2f2f2"/><rect x="9.70" y="6.10" width="1.15" height="1.15" fill="#f2f2f2"/><rect x="9.70" y="8.20" width="1.15" height="1.15" fill="#f2f2f2"/><rect x="9.70" y="10.30" width="1.15" height="1.15" fill="#f2f2f2"/></svg><div class="per">2012-12-01 to 2012-12-31</div><div class="cdr">CDR</div><div class="b g" style="left:317px">10Mbps</div><div class="b gr" style="left:400px">440kbps</div><div class="b gr" style="left:496px">5.09Mbps</div><div class="b gr" style="left:593px">588G</div><div class="b o" style="left:667px">5.09Mbps</div><div class="ov"><span class="b2 g">-</span></div><div class="pb"><div class="pf pg" style="width:50.92%"><span>50.92%</span></div></div><div class="gbtn"><svg width="16" height="16" viewBox="0 0 16 16"><path d="M2.6 9.7 C3.5 5 6 2 8.9 2.1 C11.5 2.2 14 4.5 14.6 9.1" stroke="#ee3a3c" stroke-width="1.35" fill="none"/><path d="M2.9 1.6 C3.5 5 5 7.9 7.4 7.9 C9.5 7.9 11 5 14.6 4.9" stroke="#2468de" stroke-width="1.35" fill="none"/><path d="M3.2 12.1 C5 11.5 7 8.8 9.8 8.8 C12 8.8 13.2 11.5 13.7 12.4" stroke="#3c9a3c" stroke-width="1.35" fill="none"/><path d="M1.55 0.5V14.5H14.8" stroke="#2a5fb8" stroke-width="1.1" fill="none"/></svg></div></div>
<div class="tr even"><svg class="cal" width="13" height="13" viewBox="0 0 13 13"><rect x="2" y="0" width="1.3" height="1.6" fill="#444"/><rect x="8.7" y="0" width="1.3" height="1.6" fill="#444"/><rect x="0.4" y="1.4" width="11.2" height="1.8" fill="#444"/><rect x="0.4" y="4.4" width="11.2" height="7.9" fill="#444"/><rect x="1.50" y="6.10" width="1.15" height="1.15" fill="#f2f2f2"/><rect x="1.50" y="8.20" width="1.15" height="1.15" fill="#f2f2f2"/><rect x="1.50" y="10.30" width="1.15" height="1.15" fill="#f2f2f2"/><rect x="3.55" y="6.10" width="1.15" height="1.15" fill="#f2f2f2"/><rect x="3.55" y="8.20" width="1.15" height="1.15" fill="#f2f2f2"/><rect x="3.55" y="10.30" width="1.15" height="1.15" fill="#f2f2f2"/><rect x="5.60" y="6.10" width="1.15" height="1.15" fill="#f2f2f2"/><rect x="5.60" y="8.20" width="1.15" height="1.15" fill="#f2f2f2"/><rect x="5.60" y="10.30" width="1.15" height="1.15" fill="#f2f2f2"/><rect x="7.65" y="6.10" width="1.15" height="1.15" fill="#f2f2f2"/><rect x="7.65" y="8.20" width="1.15" height="1.15" fill="#f2f2f2"/><rect x="7.65" y="10.30" width="1.15" height="1.15" fill="#f2f2f2"/><rect x="9.70" y="6.10" width="1.15" height="1.15" fill="#f2f2f2"/><rect x="9.70" y="8.20" width="1.15" height="1.15" fill="#f2f2f2"/><rect x="9.70" y="10.30" width="1.15" height="1.15" fill="#f2f2f2"/></svg><div class="per">2012-11-01 to 2012-11-30</div><div class="cdr">CDR</div><div class="b g" style="left:317px">10Mbps</div><div class="b gr" style="left:400px">426kbps</div><div class="b gr" style="left:496px">5.85Mbps</div><div class="b gr" style="left:593px">593G</div><div class="b o" style="left:667px">5.85Mbps</div><div class="ov"><span class="b2 g">-</span></div><div class="pb"><div class="pf pg" style="width:58.55%"><span>58.55%</span></div></div><div class="gbtn"><svg width="16" height="16" viewBox="0 0 16 16"><path d="M2.6 9.7 C3.5 5 6 2 8.9 2.1 C11.5 2.2 14 4.5 14.6 9.1" stroke="#ee3a3c" stroke-width="1.35" fill="none"/><path d="M2.9 1.6 C3.5 5 5 7.9 7.4 7.9 C9.5 7.9 11 5 14.6 4.9" stroke="#2468de" stroke-width="1.35" fill="none"/><path d="M3.2 12.1 C5 11.5 7 8.8 9.8 8.8 C12 8.8 13.2 11.5 13.7 12.4" stroke="#3c9a3c" stroke-width="1.35" fill="none"/><path d="M1.55 0.5V14.5H14.8" stroke="#2a5fb8" stroke-width="1.1" fill="none"/></svg></div></div>
<div class="tr odd"><svg class="cal" width="13" height="13" viewBox="0 0 13 13"><rect x="2" y="0" width="1.3" height="1.6" fill="#444"/><rect x="8.7" y="0" width="1.3" height="1.6" fill="#444"/><rect x="0.4" y="1.4" width="11.2" height="1.8" fill="#444"/><rect x="0.4" y="4.4" width="11.2" height="7.9" fill="#444"/><rect x="1.50" y="6.10" width="1.15" height="1.15" fill="#f2f2f2"/><rect x="1.50" y="8.20" width="1.15" height="1.15" fill="#f2f2f2"/><rect x="1.50" y="10.30" width="1.15" height="1.15" fill="#f2f2f2"/><rect x="3.55" y="6.10" width="1.15" height="1.15" fill="#f2f2f2"/><rect x="3.55" y="8.20" width="1.15" height="1.15" fill="#f2f2f2"/><rect x="3.55" y="10.30" width="1.15" height="1.15" fill="#f2f2f2"/><rect x="5.60" y="6.10" width="1.15" height="1.15" fill="#f2f2f2"/><rect x="5.60" y="8.20" width="1.15" height="1.15" fill="#f2f2f2"/><rect x="5.60" y="10.30" width="1.15" height="1.15" fill="#f2f2f2"/><rect x="7.65" y="6.10" width="1.15" height="1.15" fill="#f2f2f2"/><rect x="7.65" y="8.20" width="1.15" height="1.15" fill="#f2f2f2"/><rect x="7.65" y="10.30" width="1.15" height="1.15" fill="#f2f2f2"/><rect x="9.70" y="6.10" width="1.15" height="1.15" fill="#f2f2f2"/><rect x="9.70" y="8.20" width="1.15" height="1.15" fill="#f2f2f2"/><rect x="9.70" y="10.30" width="1.15" height="1.15" fill="#f2f2f2"/></svg><div class="per">2012-10-01 to 2012-10-31</div><div class="cdr">CDR</div><div class="b g" style="left:317px">10Mbps</div><div class="b gr" style="left:400px">1.4Mbps</div><div class="b gr" style="left:496px">15.2Mbps</div><div class="b gr" style="left:593px">1.38T</div><div class="b o" style="left:667px">15.2Mbps</div><div class="ov"><span class="b2 r">5.23Mbps</span></div><div class="pb"><div class="pf pr" style="width:100.00%"><span>152.35%</span></div></div><div class="gbtn"><svg width="16" height="16" viewBox="0 0 16 16"><path d="M2.6 9.7 C3.5 5 6 2 8.9 2.1 C11.5 2.2 14 4.5 14.6 9.1" stroke="#ee3a3c" stroke-width="1.35" fill="none"/><path d="M2.9 1.6 C3.5 5 5 7.9 7.4 7.9 C9.5 7.9 11 5 14.6 4.9" stroke="#2468de" stroke-width="1.35" fill="none"/><path d="M3.2 12.1 C5 11.5 7 8.8 9.8 8.8 C12 8.8 13.2 11.5 13.7 12.4" stroke="#3c9a3c" stroke-width="1.35" fill="none"/><path d="M1.55 0.5V14.5H14.8" stroke="#2a5fb8" stroke-width="1.1" fill="none"/></svg></div></div>
<div class="tr even"><svg class="cal" width="13" height="13" viewBox="0 0 13 13"><rect x="2" y="0" width="1.3" height="1.6" fill="#444"/><rect x="8.7" y="0" width="1.3" height="1.6" fill="#444"/><rect x="0.4" y="1.4" width="11.2" height="1.8" fill="#444"/><rect x="0.4" y="4.4" width="11.2" height="7.9" fill="#444"/><rect x="1.50" y="6.10" width="1.15" height="1.15" fill="#f2f2f2"/><rect x="1.50" y="8.20" width="1.15" height="1.15" fill="#f2f2f2"/><rect x="1.50" y="10.30" width="1.15" height="1.15" fill="#f2f2f2"/><rect x="3.55" y="6.10" width="1.15" height="1.15" fill="#f2f2f2"/><rect x="3.55" y="8.20" width="1.15" height="1.15" fill="#f2f2f2"/><rect x="3.55" y="10.30" width="1.15" height="1.15" fill="#f2f2f2"/><rect x="5.60" y="6.10" width="1.15" height="1.15" fill="#f2f2f2"/><rect x="5.60" y="8.20" width="1.15" height="1.15" fill="#f2f2f2"/><rect x="5.60" y="10.30" width="1.15" height="1.15" fill="#f2f2f2"/><rect x="7.65" y="6.10" width="1.15" height="1.15" fill="#f2f2f2"/><rect x="7.65" y="8.20" width="1.15" height="1.15" fill="#f2f2f2"/><rect x="7.65" y="10.30" width="1.15" height="1.15" fill="#f2f2f2"/><rect x="9.70" y="6.10" width="1.15" height="1.15" fill="#f2f2f2"/><rect x="9.70" y="8.20" width="1.15" height="1.15" fill="#f2f2f2"/><rect x="9.70" y="10.30" width="1.15" height="1.15" fill="#f2f2f2"/></svg><div class="per">2012-09-01 to 2012-09-30</div><div class="cdr">CDR</div><div class="b g" style="left:317px">10Mbps</div><div class="b gr" style="left:400px">1.03Mbps</div><div class="b gr" style="left:496px">11.7Mbps</div><div class="b gr" style="left:593px">977G</div><div class="b o" style="left:667px">11.7Mbps</div><div class="ov"><span class="b2 r">1.72Mbps</span></div><div class="pb"><div class="pf pr" style="width:100.00%"><span>117.16%</span></div></div><div class="gbtn"><svg width="16" height="16" viewBox="0 0 16 16"><path d="M2.6 9.7 C3.5 5 6 2 8.9 2.1 C11.5 2.2 14 4.5 14.6 9.1" stroke="#ee3a3c" stroke-width="1.35" fill="none"/><path d="M2.9 1.6 C3.5 5 5 7.9 7.4 7.9 C9.5 7.9 11 5 14.6 4.9" stroke="#2468de" stroke-width="1.35" fill="none"/><path d="M3.2 12.1 C5 11.5 7 8.8 9.8 8.8 C12 8.8 13.2 11.5 13.7 12.4" stroke="#3c9a3c" stroke-width="1.35" fill="none"/><path d="M1.55 0.5V14.5H14.8" stroke="#2a5fb8" stroke-width="1.1" fill="none"/></svg></div></div>
<div class="tr odd"><svg class="cal" width="13" height="13" viewBox="0 0 13 13"><rect x="2" y="0" width="1.3" height="1.6" fill="#444"/><rect x="8.7" y="0" width="1.3" height="1.6" fill="#444"/><rect x="0.4" y="1.4" width="11.2" height="1.8" fill="#444"/><rect x="0.4" y="4.4" width="11.2" height="7.9" fill="#444"/><rect x="1.50" y="6.10" width="1.15" height="1.15" fill="#f2f2f2"/><rect x="1.50" y="8.20" width="1.15" height="1.15" fill="#f2f2f2"/><rect x="1.50" y="10.30" width="1.15" height="1.15" fill="#f2f2f2"/><rect x="3.55" y="6.10" width="1.15" height="1.15" fill="#f2f2f2"/><rect x="3.55" y="8.20" width="1.15" height="1.15" fill="#f2f2f2"/><rect x="3.55" y="10.30" width="1.15" height="1.15" fill="#f2f2f2"/><rect x="5.60" y="6.10" width="1.15" height="1.15" fill="#f2f2f2"/><rect x="5.60" y="8.20" width="1.15" height="1.15" fill="#f2f2f2"/><rect x="5.60" y="10.30" width="1.15" height="1.15" fill="#f2f2f2"/><rect x="7.65" y="6.10" width="1.15" height="1.15" fill="#f2f2f2"/><rect x="7.65" y="8.20" width="1.15" height="1.15" fill="#f2f2f2"/><rect x="7.65" y="10.30" width="1.15" height="1.15" fill="#f2f2f2"/><rect x="9.70" y="6.10" width="1.15" height="1.15" fill="#f2f2f2"/><rect x="9.70" y="8.20" width="1.15" height="1.15" fill="#f2f2f2"/><rect x="9.70" y="10.30" width="1.15" height="1.15" fill="#f2f2f2"/></svg><div class="per">2012-08-01 to 2012-08-31</div><div class="cdr">CDR</div><div class="b g" style="left:317px">10Mbps</div><div class="b gr" style="left:400px">4.91Mbps</div><div class="b gr" style="left:496px">17.5Mbps</div><div class="b gr" style="left:593px">2.01T</div><div class="b o" style="left:667px">17.5Mbps</div><div class="ov"><span class="b2 r">7.51Mbps</span></div><div class="pb"><div class="pf pr" style="width:100.00%"><span>175.10%</span></div></div><div class="gbtn"><svg width="16" height="16" viewBox="0 0 16 16"><path d="M2.6 9.7 C3.5 5 6 2 8.9 2.1 C11.5 2.2 14 4.5 14.6 9.1" stroke="#ee3a3c" stroke-width="1.35" fill="none"/><path d="M2.9 1.6 C3.5 5 5 7.9 7.4 7.9 C9.5 7.9 11 5 14.6 4.9" stroke="#2468de" stroke-width="1.35" fill="none"/><path d="M3.2 12.1 C5 11.5 7 8.8 9.8 8.8 C12 8.8 13.2 11.5 13.7 12.4" stroke="#3c9a3c" stroke-width="1.35" fill="none"/><path d="M1.55 0.5V14.5H14.8" stroke="#2a5fb8" stroke-width="1.1" fill="none"/></svg></div></div>
<div class="tr even"><svg class="cal" width="13" height="13" viewBox="0 0 13 13"><rect x="2" y="0" width="1.3" height="1.6" fill="#444"/><rect x="8.7" y="0" width="1.3" height="1.6" fill="#444"/><rect x="0.4" y="1.4" width="11.2" height="1.8" fill="#444"/><rect x="0.4" y="4.4" width="11.2" height="7.9" fill="#444"/><rect x="1.50" y="6.10" width="1.15" height="1.15" fill="#f2f2f2"/><rect x="1.50" y="8.20" width="1.15" height="1.15" fill="#f2f2f2"/><rect x="1.50" y="10.30" width="1.15" height="1.15" fill="#f2f2f2"/><rect x="3.55" y="6.10" width="1.15" height="1.15" fill="#f2f2f2"/><rect x="3.55" y="8.20" width="1.15" height="1.15" fill="#f2f2f2"/><rect x="3.55" y="10.30" width="1.15" height="1.15" fill="#f2f2f2"/><rect x="5.60" y="6.10" width="1.15" height="1.15" fill="#f2f2f2"/><rect x="5.60" y="8.20" width="1.15" height="1.15" fill="#f2f2f2"/><rect x="5.60" y="10.30" width="1.15" height="1.15" fill="#f2f2f2"/><rect x="7.65" y="6.10" width="1.15" height="1.15" fill="#f2f2f2"/><rect x="7.65" y="8.20" width="1.15" height="1.15" fill="#f2f2f2"/><rect x="7.65" y="10.30" width="1.15" height="1.15" fill="#f2f2f2"/><rect x="9.70" y="6.10" width="1.15" height="1.15" fill="#f2f2f2"/><rect x="9.70" y="8.20" width="1.15" height="1.15" fill="#f2f2f2"/><rect x="9.70" y="10.30" width="1.15" height="1.15" fill="#f2f2f2"/></svg><div class="per">2012-07-01 to 2012-07-31</div><div class="cdr">CDR</div><div class="b g" style="left:317px">10Mbps</div><div class="b gr" style="left:400px">22.7Mbps</div><div class="b gr" style="left:496px">14.2Mbps</div><div class="b gr" style="left:593px">499G</div><div class="b o" style="left:667px">22.7Mbps</div><div class="ov"><span class="b2 r">12.7Mbps</span></div><div class="pb"><div class="pf pr" style="width:100.00%"><span>227.08%</span></div></div><div class="gbtn"><svg width="16" height="16" viewBox="0 0 16 16"><path d="M2.6 9.7 C3.5 5 6 2 8.9 2.1 C11.5 2.2 14 4.5 14.6 9.1" stroke="#ee3a3c" stroke-width="1.35" fill="none"/><path d="M2.9 1.6 C3.5 5 5 7.9 7.4 7.9 C9.5 7.9 11 5 14.6 4.9" stroke="#2468de" stroke-width="1.35" fill="none"/><path d="M3.2 12.1 C5 11.5 7 8.8 9.8 8.8 C12 8.8 13.2 11.5 13.7 12.4" stroke="#3c9a3c" stroke-width="1.35" fill="none"/><path d="M1.55 0.5V14.5H14.8" stroke="#2a5fb8" stroke-width="1.1" fill="none"/></svg></div></div>
<div class="tr odd"><svg class="cal" width="13" height="13" viewBox="0 0 13 13"><rect x="2" y="0" width="1.3" height="1.6" fill="#444"/><rect x="8.7" y="0" width="1.3" height="1.6" fill="#444"/><rect x="0.4" y="1.4" width="11.2" height="1.8" fill="#444"/><rect x="0.4" y="4.4" width="11.2" height="7.9" fill="#444"/><rect x="1.50" y="6.10" width="1.15" height="1.15" fill="#f2f2f2"/><rect x="1.50" y="8.20" width="1.15" height="1.15" fill="#f2f2f2"/><rect x="1.50" y="10.30" width="1.15" height="1.15" fill="#f2f2f2"/><rect x="3.55" y="6.10" width="1.15" height="1.15" fill="#f2f2f2"/><rect x="3.55" y="8.20" width="1.15" height="1.15" fill="#f2f2f2"/><rect x="3.55" y="10.30" width="1.15" height="1.15" fill="#f2f2f2"/><rect x="5.60" y="6.10" width="1.15" height="1.15" fill="#f2f2f2"/><rect x="5.60" y="8.20" width="1.15" height="1.15" fill="#f2f2f2"/><rect x="5.60" y="10.30" width="1.15" height="1.15" fill="#f2f2f2"/><rect x="7.65" y="6.10" width="1.15" height="1.15" fill="#f2f2f2"/><rect x="7.65" y="8.20" width="1.15" height="1.15" fill="#f2f2f2"/><rect x="7.65" y="10.30" width="1.15" height="1.15" fill="#f2f2f2"/><rect x="9.70" y="6.10" width="1.15" height="1.15" fill="#f2f2f2"/><rect x="9.70" y="8.20" width="1.15" height="1.15" fill="#f2f2f2"/><rect x="9.70" y="10.30" width="1.15" height="1.15" fill="#f2f2f2"/></svg><div class="per">2012-06-01 to 2012-06-30</div><div class="cdr">CDR</div><div class="b g" style="left:317px">10Mbps</div><div class="b gr" style="left:400px">2.93Mbps</div><div class="b gr" style="left:496px">8.64Mbps</div><div class="b gr" style="left:593px">677G</div><div class="b o" style="left:667px">8.64Mbps</div><div class="ov"><span class="b2 g">-</span></div><div class="pb"><div class="pf po" style="width:86.43%"><span>86.43%</span></div></div><div class="gbtn"><svg width="16" height="16" viewBox="0 0 16 16"><path d="M2.6 9.7 C3.5 5 6 2 8.9 2.1 C11.5 2.2 14 4.5 14.6 9.1" stroke="#ee3a3c" stroke-width="1.35" fill="none"/><path d="M2.9 1.6 C3.5 5 5 7.9 7.4 7.9 C9.5 7.9 11 5 14.6 4.9" stroke="#2468de" stroke-width="1.35" fill="none"/><path d="M3.2 12.1 C5 11.5 7 8.8 9.8 8.8 C12 8.8 13.2 11.5 13.7 12.4" stroke="#3c9a3c" stroke-width="1.35" fill="none"/><path d="M1.55 0.5V14.5H14.8" stroke="#2a5fb8" stroke-width="1.1" fill="none"/></svg></div></div>
<div class="tr even"><svg class="cal" width="13" height="13" viewBox="0 0 13 13"><rect x="2" y="0" width="1.3" height="1.6" fill="#444"/><rect x="8.7" y="0" width="1.3" height="1.6" fill="#444"/><rect x="0.4" y="1.4" width="11.2" height="1.8" fill="#444"/><rect x="0.4" y="4.4" width="11.2" height="7.9" fill="#444"/><rect x="1.50" y="6.10" width="1.15" height="1.15" fill="#f2f2f2"/><rect x="1.50" y="8.20" width="1.15" height="1.15" fill="#f2f2f2"/><rect x="1.50" y="10.30" width="1.15" height="1.15" fill="#f2f2f2"/><rect x="3.55" y="6.10" width="1.15" height="1.15" fill="#f2f2f2"/><rect x="3.55" y="8.20" width="1.15" height="1.15" fill="#f2f2f2"/><rect x="3.55" y="10.30" width="1.15" height="1.15" fill="#f2f2f2"/><rect x="5.60" y="6.10" width="1.15" height="1.15" fill="#f2f2f2"/><rect x="5.60" y="8.20" width="1.15" height="1.15" fill="#f2f2f2"/><rect x="5.60" y="10.30" width="1.15" height="1.15" fill="#f2f2f2"/><rect x="7.65" y="6.10" width="1.15" height="1.15" fill="#f2f2f2"/><rect x="7.65" y="8.20" width="1.15" height="1.15" fill="#f2f2f2"/><rect x="7.65" y="10.30" width="1.15" height="1.15" fill="#f2f2f2"/><rect x="9.70" y="6.10" width="1.15" height="1.15" fill="#f2f2f2"/><rect x="9.70" y="8.20" width="1.15" height="1.15" fill="#f2f2f2"/><rect x="9.70" y="10.30" width="1.15" height="1.15" fill="#f2f2f2"/></svg><div class="per">2012-05-01 to 2012-05-31</div><div class="cdr">CDR</div><div class="b g" style="left:317px">10Mbps</div><div class="b gr" style="left:400px">200kbps</div><div class="b gr" style="left:496px">1.56Mbps</div><div class="b gr" style="left:593px">197G</div><div class="b o" style="left:667px">1.56Mbps</div><div class="ov"><span class="b2 g">-</span></div><div class="pb"><div class="pf pbl" style="width:15.63%"><span>15.63%</span></div></div><div class="gbtn"><svg width="16" height="16" viewBox="0 0 16 16"><path d="M2.6 9.7 C3.5 5 6 2 8.9 2.1 C11.5 2.2 14 4.5 14.6 9.1" stroke="#ee3a3c" stroke-width="1.35" fill="none"/><path d="M2.9 1.6 C3.5 5 5 7.9 7.4 7.9 C9.5 7.9 11 5 14.6 4.9" stroke="#2468de" stroke-width="1.35" fill="none"/><path d="M3.2 12.1 C5 11.5 7 8.8 9.8 8.8 C12 8.8 13.2 11.5 13.7 12.4" stroke="#3c9a3c" stroke-width="1.35" fill="none"/><path d="M1.55 0.5V14.5H14.8" stroke="#2a5fb8" stroke-width="1.1" fill="none"/></svg></div></div>
<div class="tr odd"><svg class="cal" width="13" height="13" viewBox="0 0 13 13"><rect x="2" y="0" width="1.3" height="1.6" fill="#444"/><rect x="8.7" y="0" width="1.3" height="1.6" fill="#444"/><rect x="0.4" y="1.4" width="11.2" height="1.8" fill="#444"/><rect x="0.4" y="4.4" width="11.2" height="7.9" fill="#444"/><rect x="1.50" y="6.10" width="1.15" height="1.15" fill="#f2f2f2"/><rect x="1.50" y="8.20" width="1.15" height="1.15" fill="#f2f2f2"/><rect x="1.50" y="10.30" width="1.15" height="1.15" fill="#f2f2f2"/><rect x="3.55" y="6.10" width="1.15" height="1.15" fill="#f2f2f2"/><rect x="3.55" y="8.20" width="1.15" height="1.15" fill="#f2f2f2"/><rect x="3.55" y="10.30" width="1.15" height="1.15" fill="#f2f2f2"/><rect x="5.60" y="6.10" width="1.15" height="1.15" fill="#f2f2f2"/><rect x="5.60" y="8.20" width="1.15" height="1.15" fill="#f2f2f2"/><rect x="5.60" y="10.30" width="1.15" height="1.15" fill="#f2f2f2"/><rect x="7.65" y="6.10" width="1.15" height="1.15" fill="#f2f2f2"/><rect x="7.65" y="8.20" width="1.15" height="1.15" fill="#f2f2f2"/><rect x="7.65" y="10.30" width="1.15" height="1.15" fill="#f2f2f2"/><rect x="9.70" y="6.10" width="1.15" height="1.15" fill="#f2f2f2"/><rect x="9.70" y="8.20" width="1.15" height="1.15" fill="#f2f2f2"/><rect x="9.70" y="10.30" width="1.15" height="1.15" fill="#f2f2f2"/></svg><div class="per">2012-03-01 to 2012-03-31</div><div class="cdr">CDR</div><div class="b g" style="left:317px">10Mbps</div><div class="b gr" style="left:400px">432kbps</div><div class="b gr" style="left:496px">5.46Mbps</div><div class="b gr" style="left:593px">488G</div><div class="b o" style="left:667px">5.46Mbps</div><div class="ov"><span class="b2 g">-</span></div><div class="pb"><div class="pf pg" style="width:54.56%"><span>54.56%</span></div></div><div class="gbtn"><svg width="16" height="16" viewBox="0 0 16 16"><path d="M2.6 9.7 C3.5 5 6 2 8.9 2.1 C11.5 2.2 14 4.5 14.6 9.1" stroke="#ee3a3c" stroke-width="1.35" fill="none"/><path d="M2.9 1.6 C3.5 5 5 7.9 7.4 7.9 C9.5 7.9 11 5 14.6 4.9" stroke="#2468de" stroke-width="1.35" fill="none"/><path d="M3.2 12.1 C5 11.5 7 8.8 9.8 8.8 C12 8.8 13.2 11.5 13.7 12.4" stroke="#3c9a3c" stroke-width="1.35" fill="none"/><path d="M1.55 0.5V14.5H14.8" stroke="#2a5fb8" stroke-width="1.1" fill="none"/></svg></div></div>
<div class="tr even"><svg class="cal" width="13" height="13" viewBox="0 0 13 13"><rect x="2" y="0" width="1.3" height="1.6" fill="#444"/><rect x="8.7" y="0" width="1.3" height="1.6" fill="#444"/><rect x="0.4" y="1.4" width="11.2" height="1.8" fill="#444"/><rect x="0.4" y="4.4" width="11.2" height="7.9" fill="#444"/><rect x="1.50" y="6.10" width="1.15" height="1.15" fill="#f2f2f2"/><rect x="1.50" y="8.20" width="1.15" height="1.15" fill="#f2f2f2"/><rect x="1.50" y="10.30" width="1.15" height="1.15" fill="#f2f2f2"/><rect x="3.55" y="6.10" width="1.15" height="1.15" fill="#f2f2f2"/><rect x="3.55" y="8.20" width="1.15" height="1.15" fill="#f2f2f2"/><rect x="3.55" y="10.30" width="1.15" height="1.15" fill="#f2f2f2"/><rect x="5.60" y="6.10" width="1.15" height="1.15" fill="#f2f2f2"/><rect x="5.60" y="8.20" width="1.15" height="1.15" fill="#f2f2f2"/><rect x="5.60" y="10.30" width="1.15" height="1.15" fill="#f2f2f2"/><rect x="7.65" y="6.10" width="1.15" height="1.15" fill="#f2f2f2"/><rect x="7.65" y="8.20" width="1.15" height="1.15" fill="#f2f2f2"/><rect x="7.65" y="10.30" width="1.15" height="1.15" fill="#f2f2f2"/><rect x="9.70" y="6.10" width="1.15" height="1.15" fill="#f2f2f2"/><rect x="9.70" y="8.20" width="1.15" height="1.15" fill="#f2f2f2"/><rect x="9.70" y="10.30" width="1.15" height="1.15" fill="#f2f2f2"/></svg><div class="per">2012-02-01 to 2012-02-29</div><div class="cdr">CDR</div><div class="b g" style="left:317px">10Mbps</div><div class="b gr" style="left:400px">369kbps</div><div class="b gr" style="left:496px">3.48Mbps</div><div class="b gr" style="left:593px">440G</div><div class="b o" style="left:667px">3.48Mbps</div><div class="ov"><span class="b2 g">-</span></div><div class="pb"><div class="pf pbl" style="width:34.77%"><span>34.77%</span></div></div><div class="gbtn"><svg width="16" height="16" viewBox="0 0 16 16"><path d="M2.6 9.7 C3.5 5 6 2 8.9 2.1 C11.5 2.2 14 4.5 14.6 9.1" stroke="#ee3a3c" stroke-width="1.35" fill="none"/><path d="M2.9 1.6 C3.5 5 5 7.9 7.4 7.9 C9.5 7.9 11 5 14.6 4.9" stroke="#2468de" stroke-width="1.35" fill="none"/><path d="M3.2 12.1 C5 11.5 7 8.8 9.8 8.8 C12 8.8 13.2 11.5 13.7 12.4" stroke="#3c9a3c" stroke-width="1.35" fill="none"/><path d="M1.55 0.5V14.5H14.8" stroke="#2a5fb8" stroke-width="1.1" fill="none"/></svg></div></div>
</div>
</body></html>
